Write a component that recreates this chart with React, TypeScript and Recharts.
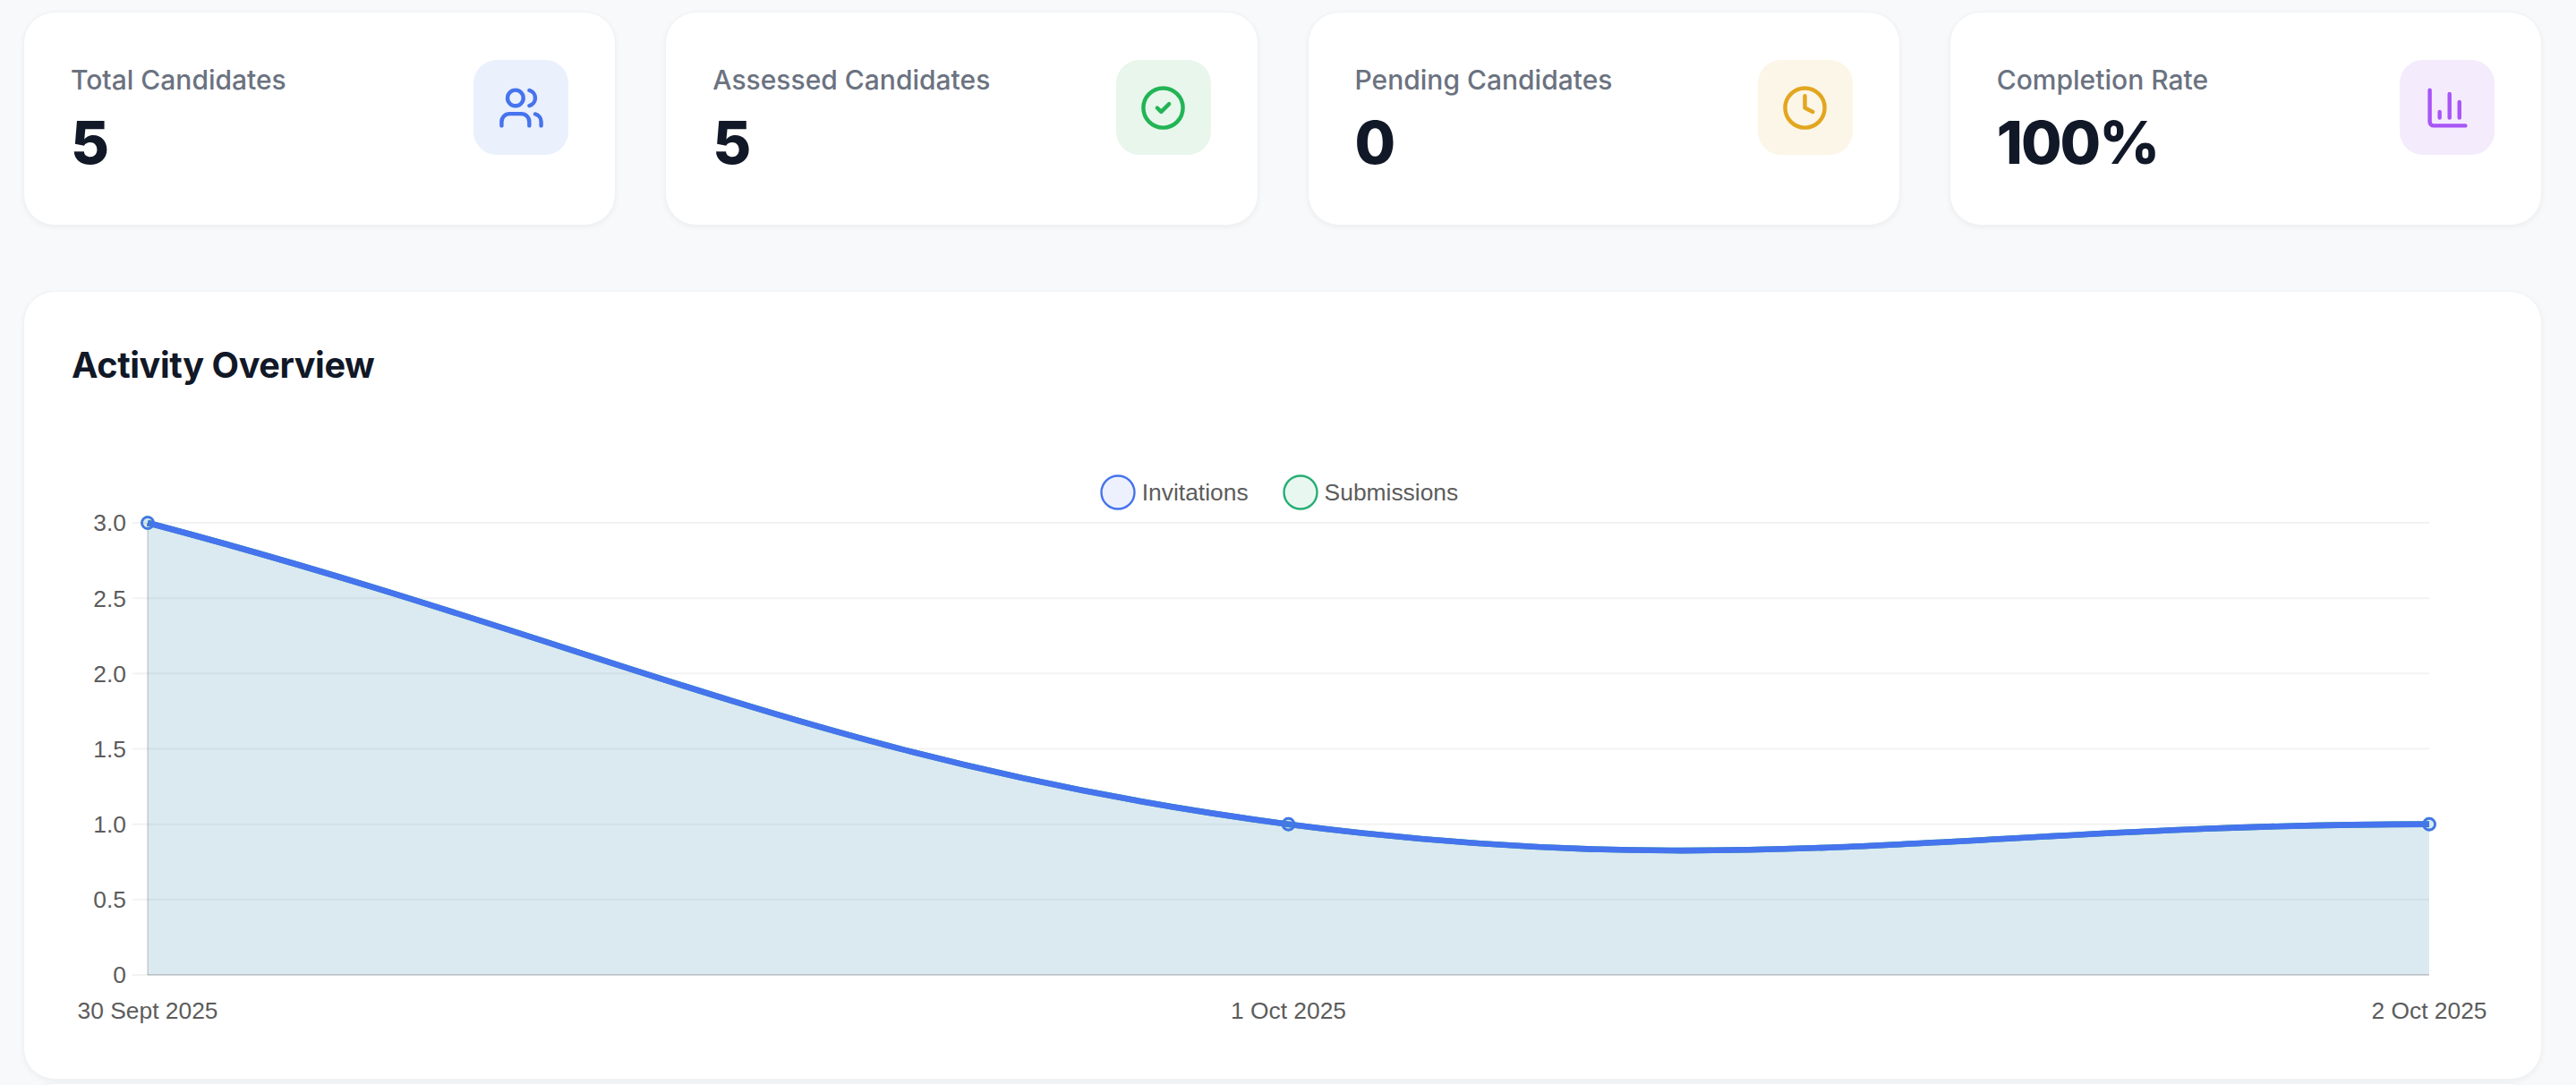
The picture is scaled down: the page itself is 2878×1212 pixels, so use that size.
import { Area, AreaChart, CartesianGrid, Legend, XAxis, YAxis } from "recharts";

const dates = ["30 Sept 2025", "1 Oct 2025", "2 Oct 2025"];
const invitations = [3, 1, 1];
const submissions = [3, 1, 1];
const yTicks = [0, 0.5, 1, 1.5, 2, 2.5, 3];

const statLabels = ["Total Candidates", "Assessed Candidates", "Pending Candidates", "Completion Rate"];
const statValues = ["5", "5", "0", "100%"];

const chartData = dates.map((date, i) => ({
  date,
  invitations: invitations[i],
  submissions: submissions[i],
}));

const BLUE = "#4673ee";
const GREEN = "#27ae74";
const TEXT = "#5c5c5c";

// same bezier the original chart uses (tension 0.4), as a d3 style curve factory
function tensionCurve(context: any) {
  let line = NaN;
  let pts: [number, number][] = [];
  return {
    areaStart() {
      line = 0;
    },
    areaEnd() {
      line = NaN;
    },
    lineStart() {
      pts = [];
    },
    point(x: number, y: number) {
      pts.push([+x, +y]);
    },
    lineEnd() {
      const t = 0.4;
      const after: [number, number][] = [];
      const before: [number, number][] = [];
      pts.forEach((cur, i) => {
        const prev = pts[Math.max(i - 1, 0)];
        const next = pts[Math.min(i + 1, pts.length - 1)];
        const d01 = Math.hypot(cur[0] - prev[0], cur[1] - prev[1]);
        const d12 = Math.hypot(next[0] - cur[0], next[1] - cur[1]);
        const sum = d01 + d12 || 1;
        const fa = (t * d01) / sum;
        const fb = (t * d12) / sum;
        before[i] = [cur[0] - fa * (next[0] - prev[0]), cur[1] - fa * (next[1] - prev[1])];
        after[i] = [cur[0] + fb * (next[0] - prev[0]), cur[1] + fb * (next[1] - prev[1])];
      });
      pts.forEach((p, i) => {
        if (i === 0) {
          if (line) context.lineTo(p[0], p[1]);
          else context.moveTo(p[0], p[1]);
        } else {
          context.bezierCurveTo(after[i - 1][0], after[i - 1][1], before[i][0], before[i][1], p[0], p[1]);
        }
      });
      if (line) context.closePath();
      line = 1 - line;
    },
  };
}

function StatIcon({ index, color }: { index: number; color: string }) {
  return (
    <svg width={53} height={53} viewBox="0 0 24 24" fill="none" stroke={color} strokeWidth={2} strokeLinecap="round" strokeLinejoin="round">
      {index === 0 && (
        <>
          <path d="M16 21v-2a4 4 0 0 0-4-4H6a4 4 0 0 0-4 4v2" />
          <circle cx={9} cy={7} r={4} />
          <path d="M22 21v-2a4 4 0 0 0-3-3.87" />
          <path d="M16 3.13a4 4 0 0 1 0 7.75" />
        </>
      )}
      {index === 1 && (
        <>
          <circle cx={12} cy={12} r={10} />
          <path d="m9 12 2 2 4-4" />
        </>
      )}
      {index === 2 && (
        <>
          <circle cx={12} cy={12} r={10} />
          <polyline points="12 6 12 12 16 14" />
        </>
      )}
      {index === 3 && (
        <>
          <path d="M3 3v16a2 2 0 0 0 2 2h16" />
          <path d="M18 17V9" />
          <path d="M13 17V5" />
          <path d="M8 17v-3" />
        </>
      )}
    </svg>
  );
}

const iconColors = ["#4673ee", "#22b455", "#e2a61f", "#a855f7"];
const iconBacks = ["#ebf0fd", "#e8f6ec", "#fcf6e8", "#f4ebfd"];

const cardStyle: React.CSSProperties = {
  background: "#fff",
  border: "1.5px solid #f1f2f4",
  boxShadow: "0 2px 6px rgba(0,0,0,.05)",
  boxSizing: "border-box",
};

function LegendContent({ payload }: any) {
  return (
    <div style={{ display: "flex", justifyContent: "center", alignItems: "center", height: 50, gap: 38 }}>
      {(payload || []).map((entry: any) => (
        <div key={entry.value} style={{ display: "flex", alignItems: "center", gap: 7, font: "26.4px 'Liberation Sans'", color: TEXT }}>
          <svg width={40} height={40}>
            <circle cx={20} cy={20} r={18.5} fill={entry.color} fillOpacity={0.1} stroke={entry.color} strokeWidth={2.4} />
          </svg>
          {entry.value}
        </div>
      ))}
    </div>
  );
}

export default function App() {
  const tickStyle = { fontSize: 26.4, fontFamily: "Liberation Sans", fill: TEXT };
  return (
    <div style={{ position: "absolute", left: 0, top: 0, width: 2878, height: 1212, overflow: "hidden", background: "#f8f9fb", fontFamily: "Inter" }}>
      <div style={{ position: "absolute", left: 26, top: 13, width: 2814, height: 239, display: "flex", gap: 55 }}>
        {statLabels.map((label, i) => (
          <div key={label} style={{ ...cardStyle, flex: 1, borderRadius: 35, position: "relative" }}>
            <div style={{ position: "absolute", left: 52, top: 53, fontSize: 30, lineHeight: "44px", fontWeight: 500, color: "#6b7280", whiteSpace: "nowrap" }}>{label}</div>
            <div style={{ position: "absolute", left: 52, top: 105, fontSize: 66, lineHeight: "80px", fontWeight: 800, letterSpacing: -2, color: "#111827" }}>{statValues[i]}</div>
            <div style={{ position: "absolute", right: 52, top: 53, width: 106, height: 106, borderRadius: 26, background: iconBacks[i], display: "grid", placeItems: "center" }}>
              <StatIcon index={i} color={iconColors[i]} />
            </div>
          </div>
        ))}
      </div>

      <div style={{ ...cardStyle, position: "absolute", left: 26, top: 325, width: 2814, height: 881, borderRadius: 35 }} />
      <div style={{ ...cardStyle, position: "absolute", left: 26, top: 1210, width: 2814, height: 100, borderRadius: 35 }} />
      <div style={{ position: "absolute", left: 80, top: 382, fontSize: 39.6, lineHeight: "52px", fontWeight: 700, letterSpacing: -0.4, color: "#111827" }}>Activity Overview</div>

      <div style={{ position: "absolute", left: 81, top: 500 }}>
        <AreaChart width={2704} height={650} data={chartData} margin={{ top: 34, right: 71, bottom: 0, left: 0 }}>
          <CartesianGrid vertical={false} stroke="rgba(0,0,0,.05)" strokeWidth={2} />
          <XAxis
            dataKey="date"
            interval={0}
            height={61}
            tickLine={false}
            tickMargin={24}
            tick={tickStyle}
            axisLine={{ stroke: "rgba(0,0,0,.12)", strokeWidth: 2 }}
          />
          <YAxis
            width={84}
            domain={[0, 3]}
            ticks={yTicks}
            tickSize={17}
            tickMargin={7}
            tick={tickStyle}
            tickLine={{ stroke: "rgba(0,0,0,.05)", strokeWidth: 2 }}
            axisLine={{ stroke: "rgba(0,0,0,.12)", strokeWidth: 2 }}
            tickFormatter={(v: number) => (v === 0 ? "0" : v.toFixed(1))}
          />
          <Legend verticalAlign="top" height={50} wrapperStyle={{ top: 25, left: -4, width: 2704 }} content={<LegendContent />} />
          <Area
            dataKey="submissions"
            name="Submissions"
            type={tensionCurve as any}
            stroke={GREEN}
            strokeWidth={6.6}
            fill={GREEN}
            fillOpacity={0.095}
            dot={{ r: 6.5, stroke: GREEN, strokeWidth: 2.6, fill: GREEN, fillOpacity: 0.1 }}
            activeDot={false}
            isAnimationActive={false}
          />
          <Area
            dataKey="invitations"
            name="Invitations"
            type={tensionCurve as any}
            stroke={BLUE}
            strokeWidth={6.6}
            fill={BLUE}
            fillOpacity={0.095}
            dot={{ r: 6.5, stroke: BLUE, strokeWidth: 2.6, fill: BLUE, fillOpacity: 0.1 }}
            activeDot={false}
            isAnimationActive={false}
          />
        </AreaChart>
      </div>
    </div>
  );
}
